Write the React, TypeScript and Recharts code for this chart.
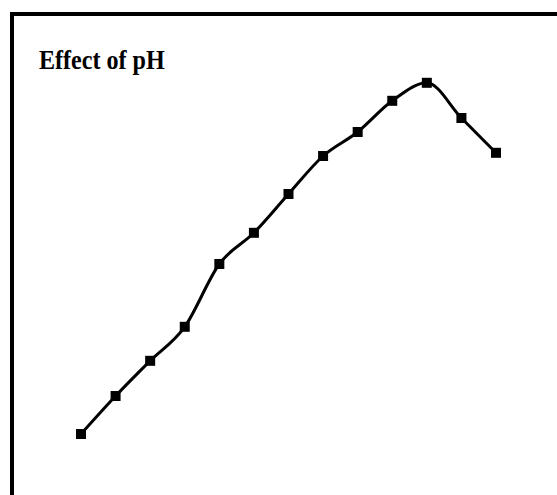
import { LineChart, Line, XAxis, YAxis } from "recharts";

const phValues = ["2.0", "2.5", "3.0", "3.5", "4.0", "4.5", "5.0", "5.5", "6.0", "6.5", "7.0", "7.5", "8.0"];
const activity = [9, 18.5, 27.3, 35.8, 51.5, 59.3, 69, 78.5, 84.5, 92.3, 96.8, 88, 79.3];

const data = phValues.map((ph, i) => ({ ph, activity: activity[i] }));

const SquareDot = (props: any) => {
  const { cx, cy, index } = props;
  if (cx == null || cy == null) return null;
  return <rect key={index} x={cx - 5} y={cy - 5} width={10} height={10} fill="#000" />;
};

const App = () => {
  return (
    <div
      style={{
        position: "fixed",
        left: 0,
        top: 0,
        width: 557,
        height: 495,
        overflow: "hidden",
        background: "#fff",
      }}
    >
      {/* frame, open to the right and bottom */}
      <div
        style={{
          position: "absolute",
          left: 10,
          top: 12,
          width: 700,
          height: 700,
          borderTop: "4px solid #000",
          borderLeft: "4px solid #000",
          boxSizing: "border-box",
        }}
      />
      <div
        style={{
          position: "absolute",
          left: 39,
          top: 46,
          fontFamily: "'Liberation Serif', 'Times New Roman', serif",
          fontWeight: "bold",
          fontSize: 28,
          lineHeight: "28px",
          whiteSpace: "nowrap",
          transform: "scaleX(0.86)",
          transformOrigin: "left top",
          color: "#000",
        }}
      >
        Effect of pH
      </div>
      <div style={{ position: "absolute", left: 0, top: 0 }}>
        <LineChart
          width={557}
          height={495}
          data={data}
          margin={{ top: 70, right: 61, bottom: 25, left: 81 }}
        >
          <XAxis dataKey="ph" hide />
          <YAxis domain={[0, 100]} hide />
          <Line
            type="monotone"
            dataKey="activity"
            stroke="#000"
            strokeWidth={3}
            dot={SquareDot}
            activeDot={false}
            isAnimationActive={false}
          />
        </LineChart>
      </div>
    </div>
  );
};

export default App;
